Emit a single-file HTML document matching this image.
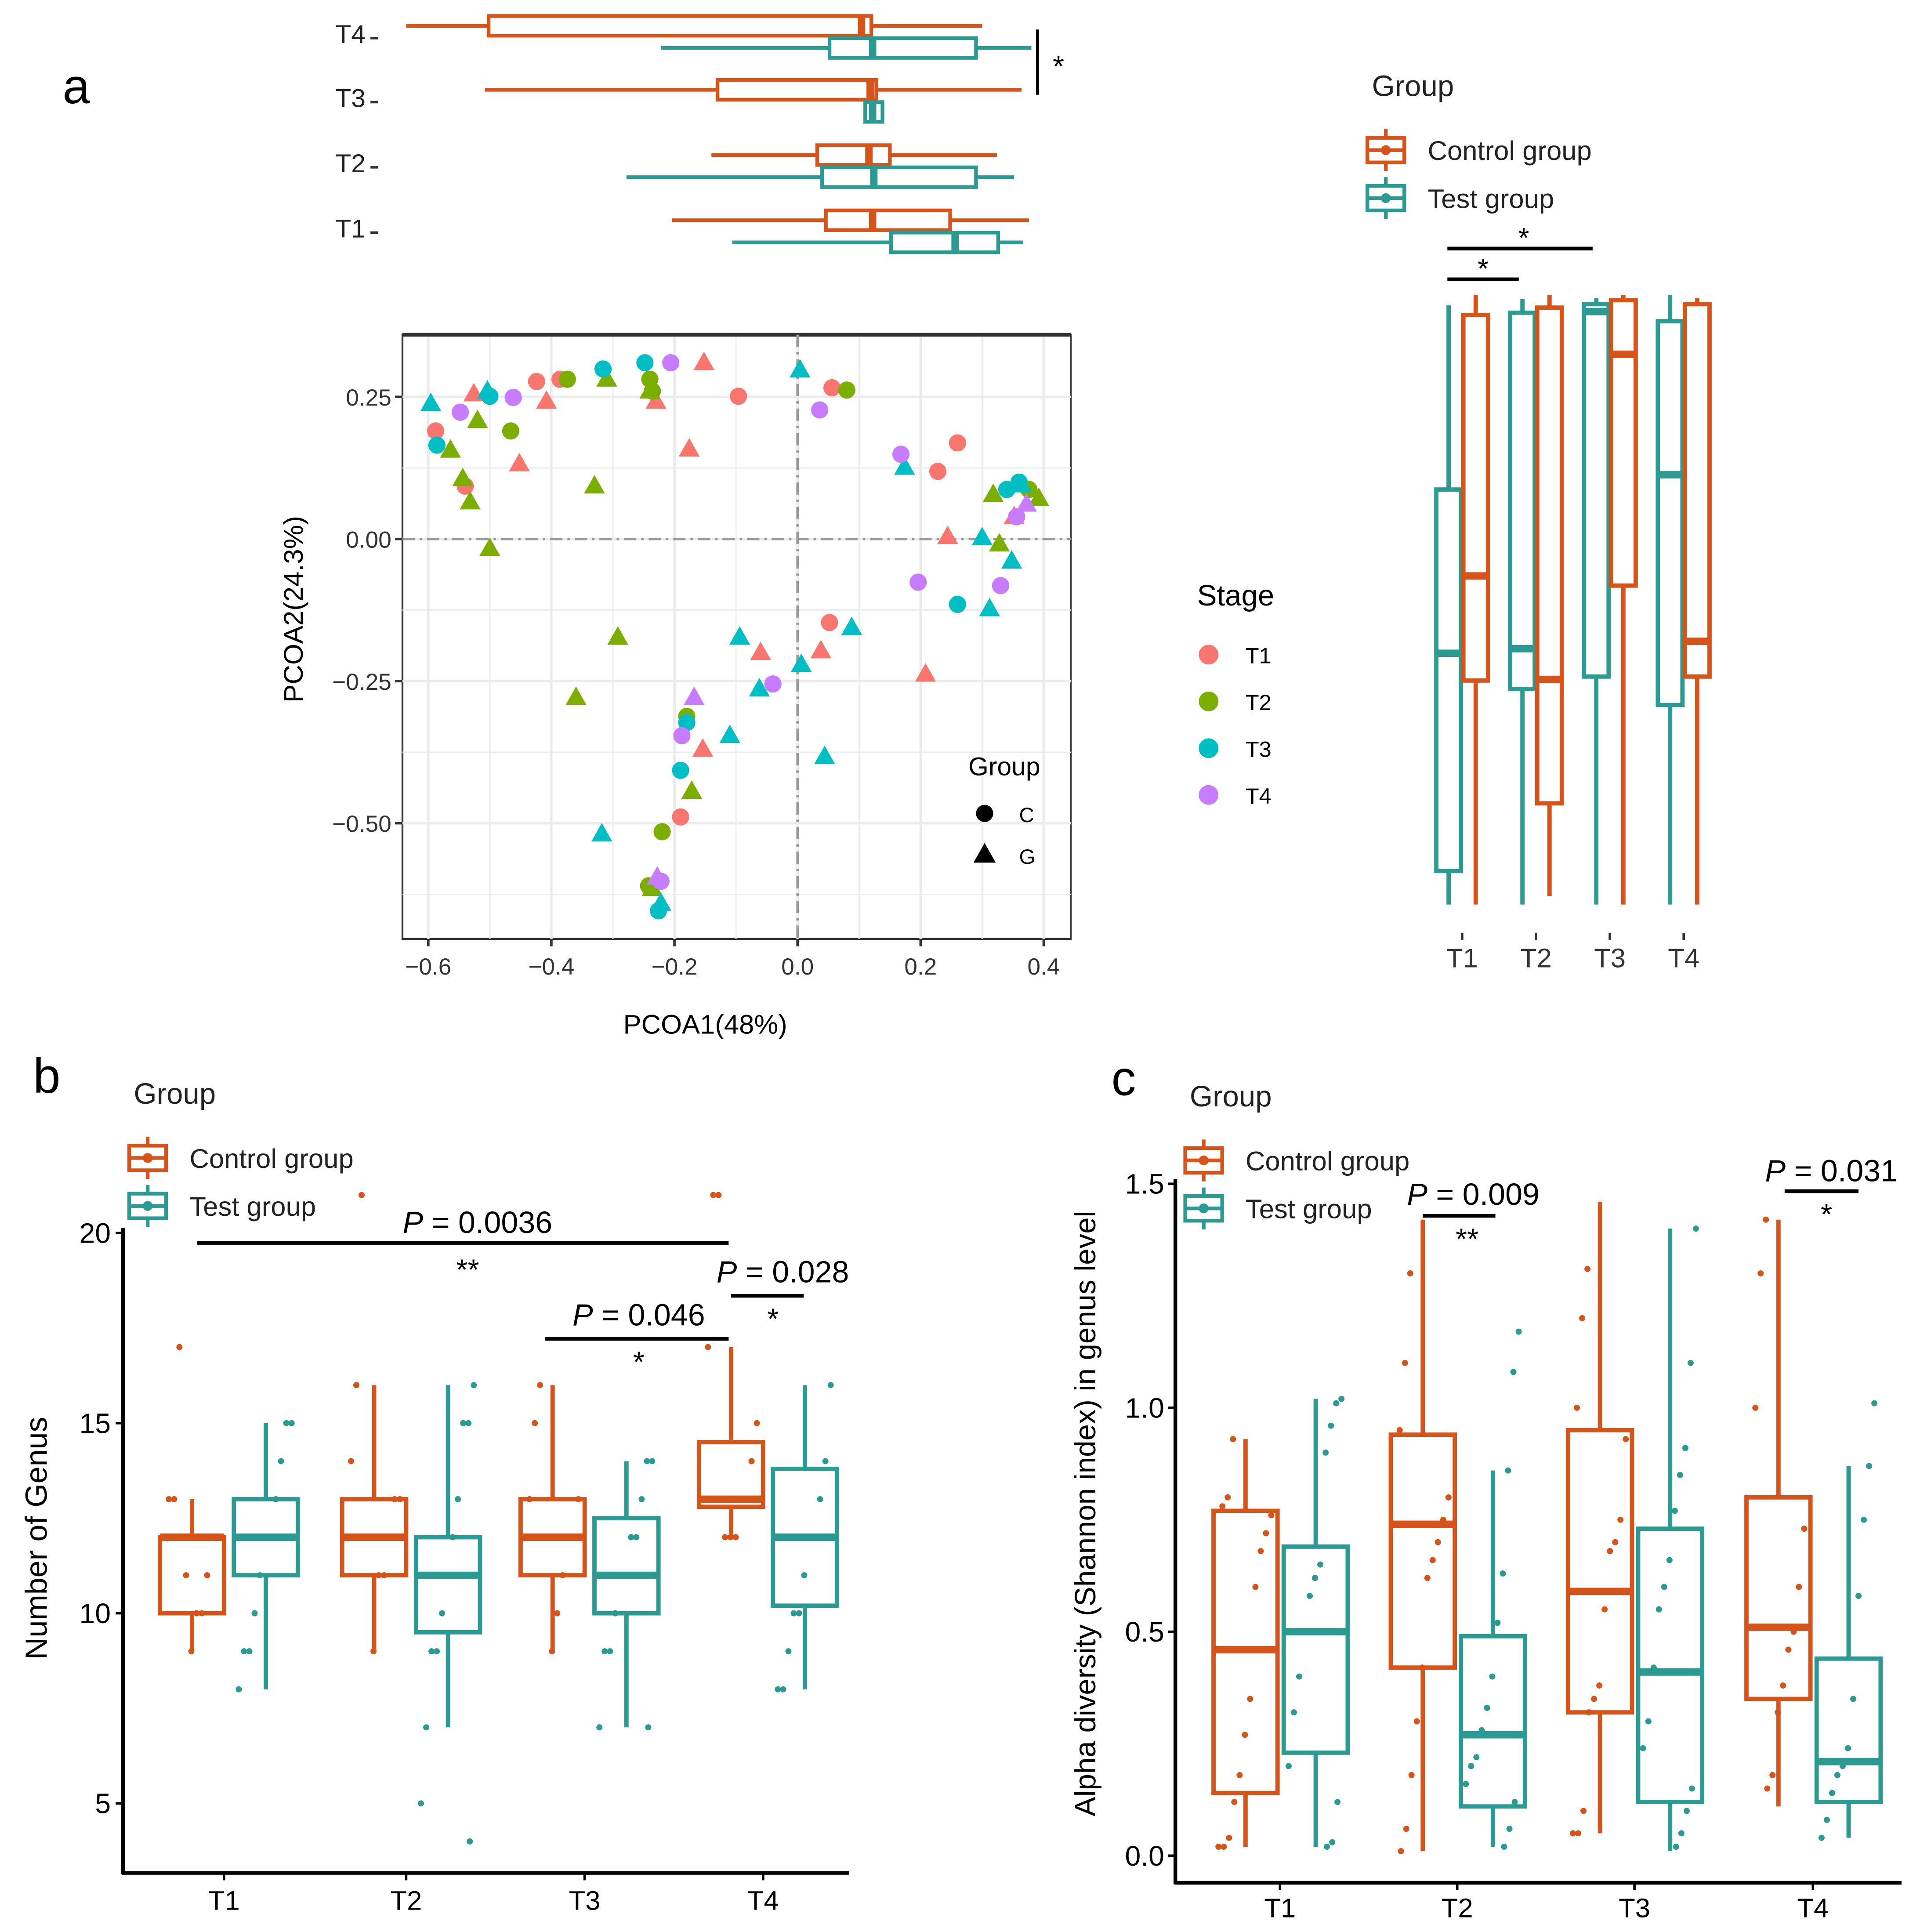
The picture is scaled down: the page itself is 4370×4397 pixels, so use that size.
<!DOCTYPE html>
<html><head><meta charset="utf-8"><style>
html,body{margin:0;padding:0;background:#fff;}
svg{display:block;font-family:"Liberation Sans",Arial,sans-serif;}
</style></head><body>
<svg id="fig" xmlns="http://www.w3.org/2000/svg" width="4370" height="4397" viewBox="0 0 1560 1570" preserveAspectRatio="none">
<rect x="0" y="0" width="1560" height="1570" fill="#fff"/>
<g id="layer"></g>
</svg>
<script>
// ===== DATA =====
const stages = ["T1","T2","T3","T4"];
const pc1Control = [[-0.204,0.046,0.122,0.248,0.376],[-0.14,0.032,0.116,0.15,0.324],[-0.508,-0.13,0.118,0.128,0.364],[-0.636,-0.502,0.104,0.12,0.3]];
const pc1Test = [[-0.106,0.152,0.256,0.326,0.366],[-0.278,0.04,0.124,0.29,0.352],[0.11,0.11,0.122,0.138,0.138],[-0.222,0.052,0.122,0.29,0.38]];
const pc2Control = [[-0.643,-0.249,-0.065,0.394,0.429],[-0.628,-0.465,-0.247,0.407,0.429],[-0.643,-0.082,0.325,0.42,0.429],[-0.643,-0.242,-0.18,0.413,0.424]];
const pc2Test = [[-0.643,-0.584,-0.201,0.087,0.411],[-0.643,-0.264,-0.193,0.398,0.422],[-0.643,-0.242,0.4,0.413,0.424],[-0.643,-0.292,0.113,0.383,0.429]];
const pcoaPoints = [
[-0.424,0.277,0,0],[-0.386,0.281,0,0],[-0.096,0.251,0,0],[0.056,0.266,0,0],[0.26,0.169,0,0],[0.228,0.119,0,0],[0.052,-0.147,0,0],[-0.19,-0.489,0,0],[-0.588,0.19,0,0],[-0.54,0.093,0,0],
[-0.526,0.255,0,1],[-0.408,0.242,0,1],[-0.23,0.242,0,1],[-0.152,0.31,0,1],[-0.176,0.158,0,1],[-0.452,0.132,0,1],[0.244,0.004,0,1],[-0.06,-0.2,0,1],[0.038,-0.197,0,1],[0.208,-0.238,0,1],[-0.154,-0.37,0,1],[0.352,0.039,0,1],
[-0.374,0.281,1,0],[-0.24,0.281,1,0],[-0.236,0.26,1,0],[0.08,0.262,1,0],[-0.466,0.19,1,0],[-0.18,-0.312,1,0],[-0.22,-0.515,1,0],[-0.242,-0.61,1,0],[0.376,0.087,1,0],
[-0.31,0.281,1,1],[-0.24,0.26,1,1],[-0.52,0.208,1,1],[-0.564,0.156,1,1],[-0.544,0.106,1,1],[-0.532,0.065,1,1],[-0.33,0.093,1,1],[-0.5,-0.017,1,1],[-0.292,-0.173,1,1],[-0.36,-0.279,1,1],[-0.172,-0.444,1,1],[0.318,0.078,1,1],[0.328,-0.009,1,1],[0.392,0.071,1,1],[-0.236,-0.615,1,1],
[-0.316,0.299,2,0],[-0.248,0.31,2,0],[-0.586,0.165,2,0],[-0.5,0.251,2,0],[0.26,-0.115,2,0],[-0.19,-0.407,2,0],[-0.18,-0.323,2,0],[0.36,0.1,2,0],[0.34,0.087,2,0],[-0.226,-0.654,2,0],
[-0.596,0.238,2,1],[-0.504,0.26,2,1],[0.004,0.297,2,1],[0.174,0.126,2,1],[0.3,0.002,2,1],[0.312,-0.123,2,1],[0.348,-0.039,2,1],[-0.094,-0.173,2,1],[0.088,-0.156,2,1],[-0.062,-0.264,2,1],[0.006,-0.221,2,1],[-0.11,-0.346,2,1],[0.044,-0.383,2,1],[-0.318,-0.519,2,1],[-0.222,-0.641,2,1],[0.364,0.095,2,1],
[-0.462,0.249,3,0],[-0.206,0.31,3,0],[-0.548,0.223,3,0],[0.036,0.227,3,0],[0.168,0.149,3,0],[0.196,-0.076,3,0],[0.33,-0.082,3,0],[-0.04,-0.255,3,0],[-0.188,-0.346,3,0],[-0.222,-0.602,3,0],[0.356,0.039,3,0],
[-0.168,-0.279,3,1],[-0.228,-0.595,3,1],[0.372,0.061,3,1]
];
const genusControl = [[9,10,12,12,13],[9,11,12,13,16],[9,11,12,13,16],[12,12.8,13,14.5,17]];
const genusTest = [[8,11,12,13,15],[7,9.5,11,12,16],[7,10,11,12.5,14],[8,10.2,12,13.8,16]];
const genusControlPts = [[17,13,13,12,12,11,10,10,9,11],[21,16,14,13,13,12,11,11,9,12],[16,15,13,13,12,12,11,10,9,12],[21,21,17,15,14,13,13,12,12,12]];
const genusTestPts = [[15,15,14,13,12,12,11,10,9,9,8],[16,15,15,13,12,11,10,9,9,7,5,4],[14,14,13,12,12,11,11,10,9,9,7,7],[16,14,13,12,12,11,10,10,9,8,8]];
const shannonControl = [[0.02,0.14,0.46,0.77,0.93],[0.01,0.42,0.74,0.94,1.42],[0.05,0.32,0.59,0.95,1.46],[0.11,0.35,0.51,0.80,1.42]];
const shannonTest = [[0.02,0.23,0.50,0.69,1.02],[0.02,0.11,0.27,0.49,0.86],[0.01,0.12,0.41,0.73,1.40],[0.04,0.12,0.21,0.44,0.87]];
const shannonControlPts = [[0.93,0.8,0.78,0.76,0.72,0.68,0.6,0.35,0.27,0.18,0.12,0.04,0.02,0.02],[1.3,1.1,0.95,0.8,0.75,0.7,0.66,0.62,0.42,0.3,0.18,0.06,0.01],[1.31,1.2,1.0,0.93,0.75,0.7,0.68,0.55,0.38,0.35,0.32,0.1,0.05,0.05],[1.42,1.3,1.0,0.73,0.6,0.5,0.46,0.38,0.32,0.18,0.15]];
const shannonTestPts = [[1.02,1.01,0.96,0.9,0.65,0.62,0.58,0.5,0.4,0.32,0.2,0.12,0.03,0.02],[1.17,1.08,0.86,0.63,0.52,0.4,0.33,0.28,0.22,0.2,0.16,0.12,0.06,0.02],[1.4,1.1,0.91,0.85,0.77,0.66,0.6,0.55,0.42,0.3,0.24,0.15,0.1,0.05,0.02],[1.01,0.87,0.75,0.58,0.35,0.24,0.2,0.18,0.14,0.08,0.04]];
const pc1Ticks = [-0.6,-0.4,-0.2,0.0,0.2,0.4];
const pc1TickLabels = ["\u22120.6","\u22120.4","\u22120.2","0.0","0.2","0.4"];
const pc2Ticks = [0.25,0,-0.25,-0.5];
const pc2TickLabels = ["0.25","0.00","\u22120.25","\u22120.50"];
const genusTicks = [5,10,15,20];
const shannonTicks = [0,0.5,1.0,1.5];
const shannonTickLabels = ["0.0","0.5","1.0","1.5"];

// ===== DRAW =====
const NS="http://www.w3.org/2000/svg";
const L=document.getElementById('layer');
const OR="#D6541A", TE="#2A9A92";
const stageCols=["#F8766D","#7CAE00","#00BFC4","#C77CFF"];
function mk(tag,attrs,parent){const e=document.createElementNS(NS,tag);for(const k in attrs)e.setAttribute(k,attrs[k]);(parent||L).appendChild(e);return e;}
function txt(s,x,y,size,anchor,parent,extra){const e=mk('text',Object.assign({x:x,y:y,'font-size':size,'text-anchor':anchor||'start',fill:'#000'},extra||{}),parent);e.textContent=s;return e;}
function grp(name){const g=mk('g',{});return g;}

const X1=v=>648+500*v;
const Y2=v=>438-462*v;

let g=grp('panel-a-label'); txt('a',62,84,40,'middle',g);
g=grp('panel-b-label'); txt('b',38,888,40,'middle',g);
g=grp('panel-c-label'); txt('c',913,890,40,'middle',g);

g=grp('pc1-boxplots');
const rowY=[186,133,80,28];
function hbox(s,yc,col,name){
  const bg=mk('g',{},g);
  mk('line',{x1:X1(s[0]),x2:X1(s[1]),y1:yc,y2:yc,stroke:col,'stroke-width':3},bg);
  mk('line',{x1:X1(s[3]),x2:X1(s[4]),y1:yc,y2:yc,stroke:col,'stroke-width':3},bg);
  mk('rect',{x:X1(s[1]),y:yc-8,width:Math.max(1,X1(s[3])-X1(s[1])),height:16,fill:'none',stroke:col,'stroke-width':3},bg);
  mk('line',{x1:X1(s[2]),x2:X1(s[2]),y1:yc-8,y2:yc+8,stroke:col,'stroke-width':6},bg);
}
for(let i=0;i<4;i++){
  hbox(pc1Control[i],rowY[i]-7,OR,'pc1-box-control-'+stages[i]);
  hbox(pc1Test[i],rowY[i]+11,TE,'pc1-box-test-'+stages[i]);
  txt(stages[i],297,rowY[i]+7,21,'end',g,{fill:'#222'});
  mk('line',{x1:301,x2:307,y1:rowY[i]+3,y2:rowY[i]+3,stroke:'#333','stroke-width':2},g);
}
mk('line',{x1:843,x2:843,y1:24,y2:77,stroke:'#000','stroke-width':2.5},g);
txt('*',860,62,24,'middle',g);

g=grp('pcoa-plot');
mk('rect',{x:327,y:272,width:543,height:491,fill:'#fff',stroke:'#333','stroke-width':1.5},g);
const gridG=mk('g',{},g);
for(let v=-0.7;v<=0.45;v+=0.1){const x=X1(v);if(x>327&&x<870)mk('line',{x1:x,x2:x,y1:272,y2:763,stroke:'#ebebeb','stroke-width':Math.abs(Math.round(v*10))%2===0?2:1},gridG);}
for(let v=-0.75;v<=0.35;v+=0.125){const y=Y2(v);if(y>272&&y<763)mk('line',{x1:327,x2:870,y1:y,y2:y,stroke:'#ebebeb','stroke-width':Math.round(v*8)%2===0?2:1},gridG);}
mk('line',{x1:327,x2:870,y1:272,y2:272,stroke:'#333','stroke-width':3},g);
mk('line',{x1:X1(0),x2:X1(0),y1:272,y2:763,stroke:'#999','stroke-width':2,'stroke-dasharray':'10,4,2,4'},g);
mk('line',{x1:327,x2:870,y1:Y2(0),y2:Y2(0),stroke:'#999','stroke-width':2,'stroke-dasharray':'10,4,2,4'},g);
pc1Ticks.forEach((v,i)=>{mk('line',{x1:X1(v),x2:X1(v),y1:763,y2:769,stroke:'#333','stroke-width':2},g);txt(pc1TickLabels[i],X1(v),792,19,'middle',g,{fill:'#333'});});
pc2Ticks.forEach((v,i)=>{mk('line',{x1:321,x2:327,y1:Y2(v),y2:Y2(v),stroke:'#333','stroke-width':2},g);txt(pc2TickLabels[i],318,Y2(v)+7,19,'end',g,{fill:'#333'});});
let t=txt('PCOA1(48%)',573,840,22,'middle');
t=txt('PCOA2(24.3%)',0,0,22,'middle',null,{transform:'translate(246,495) rotate(-90)'});
const ptsG=mk('g',{},g);
pcoaPoints.forEach(p=>{
  const x=X1(p[0]),y=Y2(p[1]),c=stageCols[p[2]];
  let e;
  if(p[3]===0) e=mk('circle',{cx:x,cy:y,r:7,fill:c},ptsG);
  else e=mk('polygon',{points:`${x},${y-9} ${x-8.5},${y+6} ${x+8.5},${y+6}`,fill:c},ptsG);
  
  
});
g=grp('shape-legend');
txt('Group',816,630,21,'middle',g);
mk('circle',{cx:800,cy:661,r:7,fill:'#000'},g);txt('C',828,668,17,'start',g);
mk('polygon',{points:'800,685 791,701 809,701',fill:'#000'},g);txt('G',828,702,17,'start',g);
g=grp('stage-legend');
txt('Stage',1004,492,24,'middle',g);
stages.forEach((s,i)=>{const y=532+38*i;const e=mk('circle',{cx:982,cy:y,r:8,fill:stageCols[i]},g);txt(s,1012,y+7,18,'start',g);});

function legendKey(x,y,col,parent){
  mk('line',{x1:x,x2:x,y1:y-17,y2:y+17,stroke:col,'stroke-width':3},parent);
  mk('rect',{x:x-15,y:y-10,width:30,height:20,fill:'#fff',stroke:col,'stroke-width':3},parent);
  mk('line',{x1:x-15,x2:x+15,y1:y,y2:y,stroke:col,'stroke-width':3},parent);
  mk('circle',{cx:x,cy:y,r:4,fill:col},parent);
}
function groupLegend(name,x,y){
  const gg=grp(name);
  txt('Group',x+22,y,24,'middle',gg,{fill:'#222'});
  const e1=mk('g',{},gg);
  legendKey(x,y+44,OR,e1);txt('Control group',x+34,y+52,22,'start',e1,{fill:'#222'});
  const e2=mk('g',{},gg);
  legendKey(x,y+83,TE,e2);txt('Test group',x+34,y+91,22,'start',e2,{fill:'#222'});
}
groupLegend('group-legend-a',1126,78);
groupLegend('group-legend-b',120,897);
groupLegend('group-legend-c',978,899);

function vbox(parent,s,xc,w,Y,col,name){
  const bg=mk('g',{},parent);
  mk('line',{x1:xc,x2:xc,y1:Y(s[0]),y2:Y(s[1]),stroke:col,'stroke-width':3.5},bg);
  mk('line',{x1:xc,x2:xc,y1:Y(s[3]),y2:Y(s[4]),stroke:col,'stroke-width':3.5},bg);
  mk('rect',{x:xc-w/2,y:Y(s[3]),width:w,height:Math.max(1,Y(s[1])-Y(s[3])),fill:'none',stroke:col,'stroke-width':3.5},bg);
  mk('line',{x1:xc-w/2,x2:xc+w/2,y1:Y(s[2]),y2:Y(s[2]),stroke:col,'stroke-width':6},bg);
}
g=grp('pc2-boxplots');
const pc2X=[1188,1248,1308,1368];
for(let i=0;i<4;i++){
  vbox(g,pc2Test[i],pc2X[i]-11,20,Y2,TE,'pc2-box-test-'+stages[i]);
  vbox(g,pc2Control[i],pc2X[i]+11,20,Y2,OR,'pc2-box-control-'+stages[i]);
  mk('line',{x1:pc2X[i],x2:pc2X[i],y1:758,y2:764,stroke:'#333','stroke-width':2},g);
  txt(stages[i],pc2X[i],786,22,'middle',g,{fill:'#333'});
}
mk('line',{x1:1176,x2:1234,y1:227,y2:227,stroke:'#000','stroke-width':3},g);txt('*',1205,226,23,'middle',g);
mk('line',{x1:1176,x2:1294,y1:202,y2:202,stroke:'#000','stroke-width':3},g);txt('*',1238,201,23,'middle',g);

function jit(i,w){return ((i*37+11)%41)/41*w-w/2;}

const YB=v=>1620-30.9*v;
const bX=[182,330,475,620];
g=grp('genus-chart');
mk('line',{x1:100,x2:100,y1:998,y2:1523,stroke:'#000','stroke-width':3},g);
mk('line',{x1:99,x2:690,y1:1522,y2:1522,stroke:'#000','stroke-width':3},g);
genusTicks.forEach(v=>{mk('line',{x1:94,x2:100,y1:YB(v),y2:YB(v),stroke:'#000','stroke-width':2},g);txt(String(v),90,YB(v)+8,23,'end',g);});
t=txt('Number of Genus',0,0,25,'middle',null,{transform:'translate(38,1250) rotate(-90)'});
for(let i=0;i<4;i++){
  vbox(g,genusControl[i],bX[i]-26,52,YB,OR,'genus-box-control-'+stages[i]);
  vbox(g,genusTest[i],bX[i]+34,52,YB,TE,'genus-box-test-'+stages[i]);
  mk('line',{x1:bX[i],x2:bX[i],y1:1522,y2:1528,stroke:'#000','stroke-width':2},g);
  txt(stages[i],bX[i],1552,22,'middle',g);
  genusControlPts[i].forEach((v,j)=>{const e=mk('circle',{cx:bX[i]-26+jit(j,44),cy:YB(v),r:2.5,fill:OR},g);});
  genusTestPts[i].forEach((v,j)=>{const e=mk('circle',{cx:bX[i]+34+jit(j+3,44),cy:YB(v),r:2.5,fill:TE},g);});
}
function pAnn(parent,x1,x2,y,label,lx,ly,stars,sx,sy){
  mk('line',{x1:x1,x2:x2,y1:y,y2:y,stroke:'#000','stroke-width':3},parent);
  const e=mk('text',{x:lx,y:ly,'font-size':25,'text-anchor':'middle',fill:'#000'},parent);
  const ti=mk('tspan',{'font-style':'italic'},e);ti.textContent='P';
  const t2=mk('tspan',{},e);t2.textContent=' = '+label;
  txt(stars,sx,sy,24,'middle',parent);
}
pAnn(g,160,592,1010,'0.0036',388,1002,'**',380,1040);
pAnn(g,443,592,1088,'0.046',519,1077,'*',519,1115);
pAnn(g,594,653,1053,'0.028',636,1042,'*',628,1080);

const YC=v=>1508-364*v;
const cX=[1040,1184,1328,1473];
g=grp('shannon-chart');
mk('line',{x1:955,x2:955,y1:958,y2:1531,stroke:'#000','stroke-width':3},g);
mk('line',{x1:954,x2:1545,y1:1530,y2:1530,stroke:'#000','stroke-width':3},g);
shannonTicks.forEach((v,i)=>{mk('line',{x1:949,x2:955,y1:YC(v),y2:YC(v),stroke:'#000','stroke-width':2},g);txt(shannonTickLabels[i],946,YC(v)+8,23,'end',g);});
t=txt('Alpha diversity (Shannon index) in genus level',0,0,24,'middle',null,{transform:'translate(890,1230) rotate(-90)'});
for(let i=0;i<4;i++){
  vbox(g,shannonControl[i],cX[i]-28,52,YC,OR,'shannon-box-control-'+stages[i]);
  vbox(g,shannonTest[i],cX[i]+29,52,YC,TE,'shannon-box-test-'+stages[i]);
  mk('line',{x1:cX[i],x2:cX[i],y1:1530,y2:1536,stroke:'#000','stroke-width':2},g);
  txt(stages[i],cX[i],1558,22,'middle',g);
  shannonControlPts[i].forEach((v,j)=>{const e=mk('circle',{cx:cX[i]-28+jit(j,44),cy:YC(v),r:2.5,fill:OR},g);});
  shannonTestPts[i].forEach((v,j)=>{const e=mk('circle',{cx:cX[i]+29+jit(j+3,44),cy:YC(v),r:2.5,fill:TE},g);});
}
pAnn(g,1156,1215,988,'0.009',1197,979,'**',1192,1015);
pAnn(g,1450,1510,968,'0.031',1488,960,'*',1484,995);
</script>
</body></html>
